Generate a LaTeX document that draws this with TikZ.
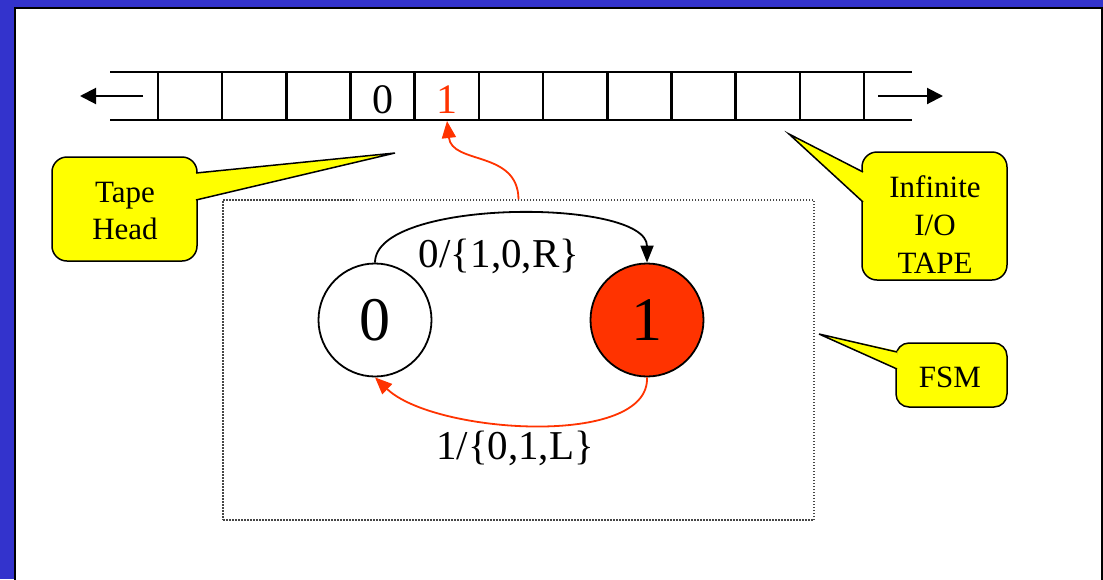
\documentclass[tikz,border=0pt]{standalone}
\usepackage{fontspec}
\setmainfont{Liberation Serif}
\usetikzlibrary{arrows.meta,calc}
\definecolor{slideblue}{RGB}{51,51,204}
\definecolor{fsmred}{RGB}{255,51,0}
\definecolor{calloutyellow}{RGB}{255,255,0}
\begin{document}
\begin{tikzpicture}[x=1pt,y=-1pt,
  tapeline/.style={line width=2.5pt},
  tapearrow/.style={line width=2pt,-{Triangle[length=16pt,width=16pt]}},
  statebox/.style={circle,draw=black,line width=1.8pt,minimum size=113pt,inner sep=0pt,font=\fontsize{62}{62}\selectfont},
  transblack/.style={line width=1.8pt,-{Triangle[length=17pt,width=13pt]}},
  transred/.style={draw=fsmred,line width=1.8pt,-{Triangle[length=17pt,width=14pt]}},
  lbl/.style={inner sep=0pt,anchor=base,font=\fontsize{41}{41}\selectfont},
  tapetext/.style={inner sep=0pt,anchor=base,font=\fontsize{42}{42}\selectfont},
  fsmbox/.style={draw=gray!55!black,dash pattern=on 1.5pt off 1.5pt,line width=1.2pt,minimum width=591pt,minimum height=320pt,inner sep=0pt},
  callbox/.style={draw=black,fill=calloutyellow,line width=1.5pt,rounded corners=15pt,inner sep=0pt},
  wedgefill/.style={fill=calloutyellow},
  wedgeline/.style={draw=black,line width=1.5pt},
  ctext/.style={inner sep=0pt,anchor=base,font=\fontsize{31}{37}\selectfont}
]
\useasboundingbox (0,0) rectangle (1103,579);
% slide frame
\fill[slideblue] (0,0) rectangle (1103,579);
\begin{scope}
  \clip (0,0) rectangle (1103,579);
  \filldraw[fill=white,draw=black,line width=2pt] (15,7.5) rectangle (1102,600);
\end{scope}

% tape
\draw[tapeline] (110,72) -- (912,72);
\draw[tapeline] (110,120) -- (912,120);
\foreach \i in {0,...,11} {
  \draw[tapeline] ({158+\i*64.18},72) -- ({158+\i*64.18},120);
}
\coordinate (la) at (143,96);
\coordinate (lb) at (80,96);
\coordinate (ra) at (878,96);
\coordinate (rb) at (943,96);
\draw[tapearrow] (la) -- (lb);
\draw[tapearrow] (ra) -- (rb);
\node[tapetext] (t0) at (383,113) {0};
\node[tapetext,text=fsmred] (t1) at (447,113) {1};
\coordinate (head) at (447,121);

% FSM box
\node[fsmbox] (fsm) at (518.5,360) {};

% states
\node[statebox,fill=white] (s0) at (375,320) {0};
\node[statebox,fill=fsmred] (s1) at (647,320) {1};
\draw[transblack] (s0.north) .. controls (375,198) and (647,198) .. (s1.north);
\draw[transred] (s1.south) .. controls (650,448) and (434,434) .. (s0.south);
\node[lbl] (l01) at (499,267) {0/\{1,0,R\}};
\node[lbl] (l10) at (515,459) {1/\{0,1,L\}};

% head arrow
\draw[transred] (fsm.north) .. controls (518,150) and (452,165) .. (head);

% callout: Tape Head
\node[callbox,minimum width=145pt,minimum height=104pt] (thbox) at (124.5,209) {};
\coordinate (thtip) at (395,153);
\fill[wedgefill] (195.5,173) -- (thtip) -- (195.5,200) -- cycle;
\draw[wedgeline] (196,173) -- (thtip) -- (196,200);
\node[ctext] (th1) at (125,202) {Tape};
\node[ctext] (th2) at (125,239) {Head};

% callout: Infinite I/O TAPE
\node[callbox,minimum width=145pt,minimum height=128pt] (itbox) at (934.5,216) {};
\coordinate (ittip) at (789,134);
\fill[wedgefill] (863.5,172) -- (ittip) -- (863.5,202) -- cycle;
\draw[wedgeline] (863,172) -- (ittip) -- (863,202);
\node[ctext] (it1) at (935,197) {Infinite};
\node[ctext] (it2) at (935,235) {I/O};
\node[ctext] (it3) at (935,273) {TAPE};

% callout: FSM
\node[callbox,minimum width=111pt,minimum height=64pt,rounded corners=13pt] (fmbox) at (951.5,375) {};
\coordinate (fmtip) at (819,334);
\fill[wedgefill] (897.5,351) -- (fmtip) -- (897.5,369) -- cycle;
\draw[wedgeline] (897,352) -- (fmtip) -- (897,369);
\node[ctext] (fm1) at (950,387) {FSM};
\end{tikzpicture}
\end{document}
